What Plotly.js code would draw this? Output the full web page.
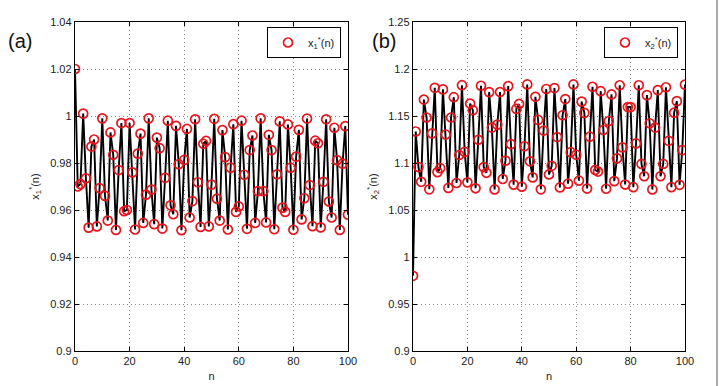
<!DOCTYPE html>
<html><head><meta charset="utf-8">
<script src="https://cdn.plot.ly/plotly-3.0.1.min.js"></script>
<style>html,body{margin:0;padding:0;background:#fff}#chart{width:719px;height:386px}</style>
</head><body><div id="chart"></div>
<script>
const nIdx = Array.from({length: 101}, (_, i) => i);

const x1Vals = [
1.020, 0.970, 0.971, 1.001, 0.9735, 0.9525, 0.987, 0.990, 0.953, 0.9693,
0.999, 0.966, 0.9555, 0.993, 0.9835, 0.9515, 0.977, 0.997, 0.9595, 0.960,
0.997, 0.976, 0.9517, 0.984, 0.9925, 0.9545, 0.9665, 0.999, 0.9687, 0.954,
0.9908, 0.9863, 0.9521, 0.9737, 0.998, 0.962, 0.9582, 0.9958, 0.9795, 0.9514,
0.9813, 0.9945, 0.9568, 0.9638, 0.9986, 0.9718, 0.9528, 0.9882, 0.9894, 0.953,
0.9708, 0.9988, 0.9648, 0.9555, 0.994, 0.9825, 0.9517, 0.978, 0.9965, 0.9592,
0.9615, 0.998, 0.975, 0.952, 0.9855, 0.9917, 0.9545, 0.968, 0.999, 0.968,
0.9547, 0.992, 0.9855, 0.9518, 0.9752, 0.9977, 0.961, 0.9592, 0.9964, 0.978,
0.9516, 0.9827, 0.9941, 0.956, 0.965, 0.9989, 0.9706, 0.9531, 0.9895, 0.9884,
0.9526, 0.972, 0.9986, 0.9636, 0.9568, 0.995, 0.9812, 0.9515, 0.9797, 0.9957,
0.958];

const x2Vals = [
0.98, 1.1335, 1.0957, 1.080, 1.1675, 1.1484, 1.072, 1.1315, 1.180, 1.0903,
1.0945, 1.1783, 1.1303, 1.0735, 1.1484, 1.170, 1.0787, 1.1085, 1.1828, 1.1118,
1.0794, 1.1632, 1.1562, 1.0731, 1.1247, 1.1822, 1.0956, 1.0896, 1.1754, 1.1377,
1.0719, 1.1408, 1.1755, 1.083, 1.1025, 1.1818, 1.12, 1.077, 1.1575, 1.1628,
1.0748, 1.1178, 1.1836, 1.1018, 1.0847, 1.1704, 1.1458, 1.072, 1.1345, 1.1787,
1.0878, 1.097, 1.1797, 1.1276, 1.074, 1.1508, 1.168, 1.078, 1.1115, 1.1836,
1.1088, 1.0812, 1.1653, 1.1533, 1.0728, 1.128, 1.1811, 1.0926, 1.0909, 1.1764,
1.1352, 1.0726, 1.1447, 1.1729, 1.0807, 1.1049, 1.1827, 1.1166, 1.0771, 1.1595,
1.1595, 1.0743, 1.1208, 1.1827, 1.099, 1.0859, 1.1722, 1.1423, 1.0719, 1.1377,
1.1775, 1.0859, 1.099, 1.1806, 1.1236, 1.0743, 1.1535, 1.1658, 1.0768, 1.1137,
1.1834];

const xTickVals = [0, 20, 40, 60, 80, 100];
const xTickText = ['0', '20', '40', '60', '80', '100'];
const y1TickVals = [0.9, 0.92, 0.94, 0.96, 0.98, 1, 1.02, 1.04];
const y1TickText = ['0.9', '0.92', '0.94', '0.96', '0.98', '1', '1.02', '1.04'];
const y2TickVals = [0.9, 0.95, 1, 1.05, 1.1, 1.15, 1.2, 1.25];
const y2TickText = ['0.9', '0.95', '1', '1.05', '1.1', '1.15', '1.2', '1.25'];
const seriesNames = ['x<sub>1</sub><sup>*</sup>(n)', 'x<sub>2</sub><sup>*</sup>(n)'];
const panelLabels = ['(a)', '(b)'];

const FONT = 'Arial, "Liberation Sans", Helvetica, sans-serif';
const W = 719, H = 386;

const traces = [
  {x: nIdx, y: x1Vals, mode: 'lines', line: {color: '#000', width: 1.9}, showlegend: false, xaxis: 'x', yaxis: 'y', hoverinfo: 'skip'},
  {x: nIdx, y: x1Vals, mode: 'markers', name: seriesNames[0], legend: 'legend',
   marker: {symbol: 'circle-open', size: 9, color: '#e8141c', line: {width: 1.7, color: '#e8141c'}}, xaxis: 'x', yaxis: 'y'},
  {x: nIdx, y: x2Vals, mode: 'lines', line: {color: '#000', width: 1.9}, showlegend: false, xaxis: 'x2', yaxis: 'y2', hoverinfo: 'skip'},
  {x: nIdx, y: x2Vals, mode: 'markers', name: seriesNames[1], legend: 'legend2',
   marker: {symbol: 'circle-open', size: 9, color: '#e8141c', line: {width: 1.7, color: '#e8141c'}}, xaxis: 'x2', yaxis: 'y2'}
];

function xAxis(dom, anchor) {
  return {
    domain: dom, anchor: anchor, range: [0, 100], tickmode: 'array', tickvals: xTickVals, ticktext: xTickText,
    showgrid: true, gridcolor: '#8a8a8a', griddash: '1px,3px', gridwidth: 1,
    ticks: 'inside', ticklen: 4, tickcolor: '#000', mirror: 'ticks', showline: true, linecolor: '#000', linewidth: 1.2,
    zeroline: false, tickfont: {family: FONT, size: 11, color: '#222'},
    title: {text: 'n', font: {family: FONT, size: 11, color: '#222'}, standoff: 5}
  };
}
function yAxis(dom, anchor, rng, tv, tt, label) {
  return {
    domain: dom, anchor: anchor, range: rng, tickmode: 'array', tickvals: tv, ticktext: tt,
    showgrid: true, gridcolor: '#8a8a8a', griddash: '1px,3px', gridwidth: 1,
    ticks: 'inside', ticklen: 4, tickcolor: '#000', mirror: 'ticks', showline: true, linecolor: '#000', linewidth: 1.2,
    zeroline: false, tickfont: {family: FONT, size: 11, color: '#222'},
    title: {text: label, font: {family: FONT, size: 11, color: '#222'}, standoff: 8}
  };
}

const yDom = [1 - 351 / H, 1 - 22 / H];
const layout = {
  width: W, height: H, margin: {l: 0, r: 0, t: 0, b: 0},
  paper_bgcolor: '#fff', plot_bgcolor: '#fff',
  font: {family: FONT, color: '#222'},
  xaxis: xAxis([75 / W, 348 / W], 'y'),
  yaxis: yAxis(yDom, 'x', [0.9, 1.04], y1TickVals, y1TickText, seriesNames[0]),
  xaxis2: xAxis([413 / W, 685 / W], 'y2'),
  yaxis2: yAxis(yDom, 'x2', [0.9, 1.25], y2TickVals, y2TickText, seriesNames[1]),
  legend: {x: 341 / W, xanchor: 'right', y: 1 - 27 / H, yanchor: 'top', bgcolor: '#fff', bordercolor: '#000', borderwidth: 1,
           font: {family: FONT, size: 11, color: '#222'}, itemwidth: 30},
  legend2: {x: 678 / W, xanchor: 'right', y: 1 - 27 / H, yanchor: 'top', bgcolor: '#fff', bordercolor: '#000', borderwidth: 1,
            font: {family: FONT, size: 11, color: '#222'}, itemwidth: 30},
  annotations: [
    {text: panelLabels[0], xref: 'paper', yref: 'paper', x: 6 / W, y: 1 - 28 / H, xanchor: 'left', yanchor: 'top', showarrow: false,
     font: {family: FONT, size: 20, color: '#111'}},
    {text: panelLabels[1], xref: 'paper', yref: 'paper', x: 370 / W, y: 1 - 28 / H, xanchor: 'left', yanchor: 'top', showarrow: false,
     font: {family: FONT, size: 20, color: '#111'}}
  ],
  shapes: [
    {type: 'line', xref: 'paper', yref: 'paper', x0: 717 / W, x1: 717 / W, y0: 0, y1: 1, line: {color: '#555', width: 1}}
  ]
};

Plotly.newPlot('chart', traces, layout, {displayModeBar: false, staticPlot: true});
</script>
</body></html>
